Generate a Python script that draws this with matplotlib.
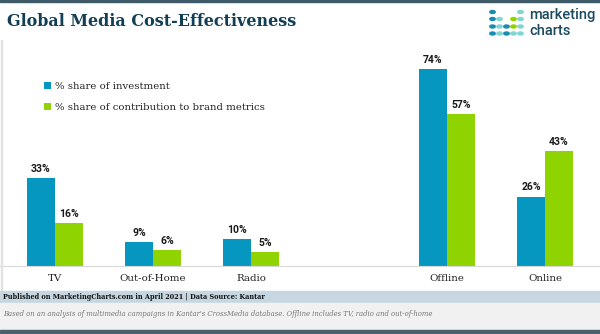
import matplotlib.pyplot as plt
import numpy

categories = ['TV', 'Out-of-Home', 'Radio', 'Offline', 'Online']
positions = [0, 1, 2, 4, 5]
investment = [33, 9, 10, 74, 26]
contribution = [16, 6, 5, 57, 43]
series_names = ['% share of investment', '% share of contribution to brand metrics']

BLUE = '#0697c0'
GREEN = '#8fd400'
DARK = '#123f55'

W, H = 600, 334


def fx(px):
    return px / W


def fy(py):
    return 1 - py / H


fig = plt.figure(figsize=(6, 3.34), dpi=100)
fig.patch.set_facecolor('white')

# plot area: baseline at y=265.7px, 2.66 px per percent
base = 265.7
top = 55
ax = fig.add_axes([0, fy(base), 1, (base - top) / H])
ax.set_xlim(-0.561, 5.561)
ax.set_ylim(0, (base - top) / 2.66)

x = numpy.array(positions)
w = 0.286
b1 = ax.bar(x - w / 2, investment, w, color=BLUE, label=series_names[0])
b2 = ax.bar(x + w / 2, contribution, w, color=GREEN, label=series_names[1])

for bars in (b1, b2):
    for bar in bars:
        ax.annotate('%d%%' % bar.get_height(),
                    (bar.get_x() + bar.get_width() / 2, bar.get_height()),
                    xytext=(0, 3), textcoords='offset points',
                    ha='center', va='bottom', fontsize=7.5,
                    fontweight='bold', family='Roboto', color='#1a1a1a')

for s in ['top', 'left', 'right']:
    ax.spines[s].set_visible(False)
ax.spines['bottom'].set_color('#d8d8d8')
ax.spines['bottom'].set_linewidth(0.8)
ax.set_yticks([])
ax.set_xticks(positions)
ax.set_xticklabels(categories, family='DejaVu Serif', fontsize=7.4, color='#222222')
ax.tick_params(axis='x', length=0, pad=6)
ax.patch.set_alpha(0)

leg = ax.legend(loc='upper left', bbox_to_anchor=(fx(44), fy(82)),
                bbox_transform=fig.transFigure, frameon=False,
                prop={'family': 'DejaVu Serif', 'size': 7.3},
                handlelength=0.65, handleheight=0.65, handletextpad=0.4,
                labelspacing=1.2, borderpad=0, borderaxespad=0)
for t in leg.get_texts():
    t.set_color('#222222')

# title
fig.text(fx(7), fy(22), 'Global Media Cost-Effectiveness', family='DejaVu Serif',
         fontweight='bold', fontsize=11.5, color=DARK, va='center', ha='left')

# logo dots
dot_cols = [492.5, 499.5, 506.5, 513.5, 520.5]
dot_rows = [12, 19, 26.5, 33.5]
c_b, c_t, c_g = '#1a8cb4', '#7fd6d2', '#8fd400'
dot_map = [
    [c_b, None, None, None, c_t],
    [c_b, c_t, None, c_g, c_t],
    [c_b, c_t, c_b, c_g, c_t],
    [c_b, c_t, c_b, c_t, c_t],
]
for r, row in enumerate(dot_map):
    for c, col in enumerate(row):
        if col is not None:
            fig.patches.append(plt.Circle((fx(dot_cols[c]), fy(dot_rows[r])), 2.7 / W,
                                          transform=fig.transFigure, color=col,
                                          figure=fig))
fig.text(fx(529), fy(15), 'marketing', family='Roboto', fontweight='medium',
         fontsize=10.5, color='#1b4a60', va='center', ha='left')
fig.text(fx(529), fy(31), 'charts', family='Roboto', fontweight='medium',
         fontsize=10.5, color='#1b4a60', va='center', ha='left')

# borders and footer
fig.patches.append(plt.Rectangle((0, fy(2)), 1, 2 / H, transform=fig.transFigure,
                                 color='#3e5a68', figure=fig))
fig.patches.append(plt.Rectangle((fx(1), fy(291)), 1 / W, (291 - 40) / H,
                                 transform=fig.transFigure, color='#e2e2e2', figure=fig))
fig.patches.append(plt.Rectangle((0, fy(303)), 1, 12 / H, transform=fig.transFigure,
                                 color='#c6d7e1', figure=fig))
fig.patches.append(plt.Rectangle((0, fy(330)), 1, 27 / H, transform=fig.transFigure,
                                 color='#f1f1f1', figure=fig))
fig.patches.append(plt.Rectangle((0, 0), 1, 4 / H, transform=fig.transFigure,
                                 color='#4a6270', figure=fig))
fig.text(fx(3), fy(297), 'Published on MarketingCharts.com in April 2021 | Data Source: Kantar',
         family='DejaVu Serif', fontweight='bold', fontsize=5.2, fontstretch='condensed',
         color='#111111', va='center', ha='left')
fig.text(fx(3), fy(314),
         "Based on an analysis of multimedia campaigns in Kantar's CrossMedia database. "
         "Offline includes TV, radio and out-of-home",
         family='DejaVu Serif', style='italic', fontsize=5.5, fontstretch='condensed',
         color='#777777', va='center', ha='left')

plt.savefig('out.png', dpi=100)
